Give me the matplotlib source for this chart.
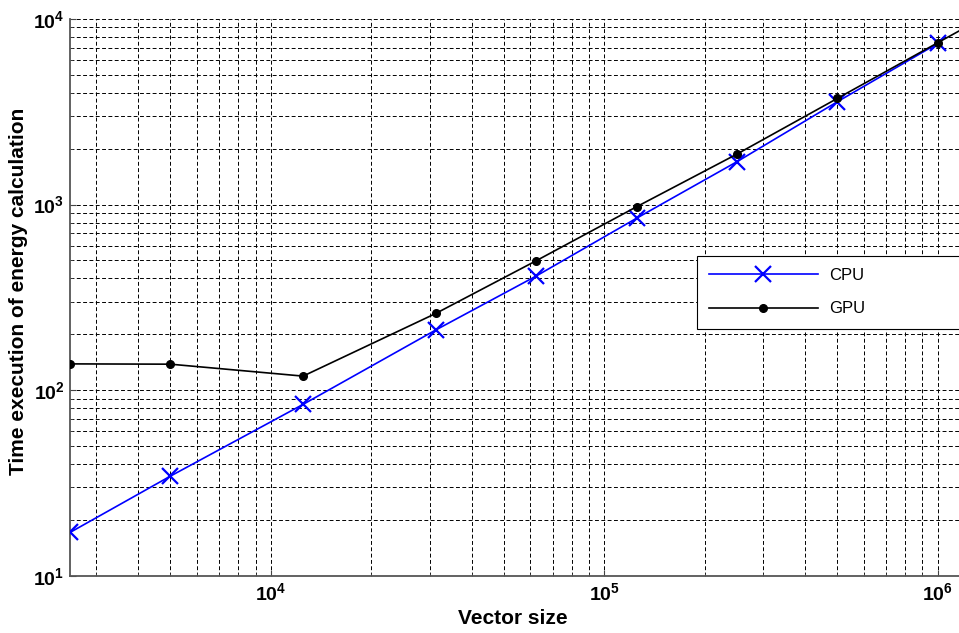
import numpy as np
import matplotlib
matplotlib.use("Agg")
import matplotlib.pyplot as plt
from matplotlib.ticker import LogLocator, NullFormatter

plt.rcParams['font.family'] = ['Liberation Sans', 'DejaVu Sans']
plt.rcParams['mathtext.fontset'] = 'custom'
plt.rcParams['mathtext.rm'] = 'Liberation Sans:bold'
plt.rcParams['mathtext.bf'] = 'Liberation Sans:bold'

# data
vector_size_cpu = [2500, 5000, 12500, 31250, 62500, 125000, 250000, 500000, 1000000]
time_cpu = [17.1, 34.4, 83.8, 211, 412, 844, 1702, 3581, 7380]

vector_size_gpu = [2500, 5000, 12500, 31250, 62500, 125000, 250000, 500000, 1000000, 2000000]
time_gpu = [138.5, 138, 119, 259, 498, 973, 1871, 3733, 7450, 14800]

x_ticks = [1e4, 1e5, 1e6]
x_ticklabels = [r'$\mathbf{10^{4}}$', r'$\mathbf{10^{5}}$', r'$\mathbf{10^{6}}$']
y_ticks = [1e1, 1e2, 1e3, 1e4]
y_ticklabels = [r'$\mathbf{10^{1}}$', r'$\mathbf{10^{2}}$', r'$\mathbf{10^{3}}$', r'$\mathbf{10^{4}}$']

W, H = 959, 633
fig = plt.figure(figsize=(W / 100, H / 100), dpi=100)

# axes box in pixels: left 70, right 959, top 19, bottom 575.7
ax = fig.add_axes([70 / W, (H - 575.7) / H, (959 - 70) / W, (575.7 - 19) / H])
ax.set_xscale('log')
ax.set_yscale('log')

ax.plot(vector_size_cpu, time_cpu, color='#0000ff', linewidth=1.2,
        marker='x', markersize=12, markeredgewidth=1.6, label='CPU', zorder=3)
ax.plot(vector_size_gpu, time_gpu, color='black', linewidth=1.2,
        marker='o', markersize=5.5, label='GPU', zorder=4)

ax.set_xlim(2500, 10 ** (6 + (959 - 937.7) / 334))
ax.set_ylim(10, 1e4)

ax.set_xticks(x_ticks)
ax.set_xticklabels(x_ticklabels)
ax.set_yticks(y_ticks)
ax.set_yticklabels(y_ticklabels)
ax.xaxis.set_minor_locator(LogLocator(base=10, subs=np.arange(2, 10), numticks=20))
ax.yaxis.set_minor_locator(LogLocator(base=10, subs=np.arange(2, 10), numticks=20))
ax.xaxis.set_minor_formatter(NullFormatter())
ax.yaxis.set_minor_formatter(NullFormatter())

ax.tick_params(which='both', direction='in', top=False, right=False, labelsize=14)
ax.tick_params(axis='x', which='major', pad=5)
ax.tick_params(axis='y', which='major', pad=4)
ax.tick_params(which='major', length=4, width=0.8, color='#444444')
ax.tick_params(which='minor', length=2.5, width=0.6, color='#444444')

# matlab-style dashed grid, major and minor the same
ax.grid(True, which='both', color='black', linewidth=0.7, linestyle=(0, (4, 2.5)))
ax.set_axisbelow(True)

for side in ['top', 'right']:
    ax.spines[side].set_visible(False)
for side in ['left', 'bottom']:
    ax.spines[side].set_color('#555555')
    ax.spines[side].set_linewidth(1.3)

ax.set_xlabel('Vector size', fontsize=15, fontweight='bold')
ax.xaxis.set_label_coords(0.498, -0.06)
ax.set_ylabel('Time execution of energy calculation', fontsize=15, fontweight='bold')
ax.yaxis.set_label_coords(-0.047, 0.51)

leg = ax.legend(loc='upper left', bbox_to_anchor=(0.705, 0.435, 0.3, 0.14),
                mode='expand', fontsize=12, frameon=True, fancybox=False,
                borderaxespad=0, borderpad=0.75, handlelength=6.5,
                handletextpad=0.7, labelspacing=1.1)
leg.get_frame().set_edgecolor('black')
leg.get_frame().set_linewidth(0.8)
leg.get_frame().set_alpha(1)

fig.savefig('out.png', dpi=100)
